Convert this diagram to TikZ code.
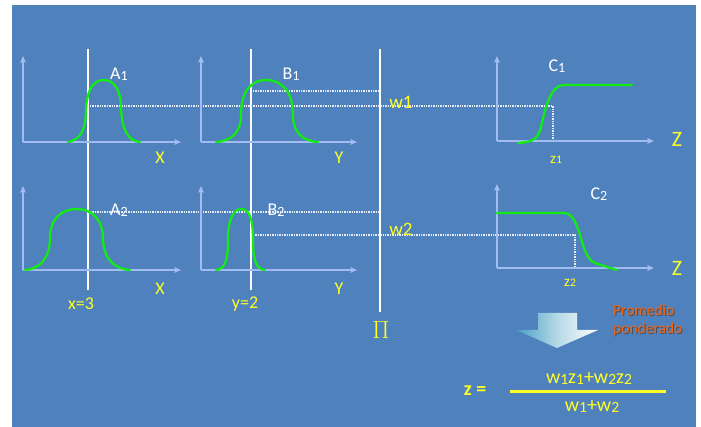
\documentclass[tikz,border=0pt]{standalone}
\usepackage{fontspec}
\setmainfont{Carlito}
\usetikzlibrary{arrows.meta}
\definecolor{bg}{RGB}{79,129,189}
\definecolor{axiscol}{RGB}{160,188,240}
\definecolor{curvecol}{RGB}{20,235,20}
\definecolor{ylw}{RGB}{255,255,40}
\definecolor{dotcol}{RGB}{230,236,248}
\definecolor{orng}{RGB}{240,100,20}
\definecolor{teal}{RGB}{70,160,195}
\newcommand{\smsub}[1]{\raisebox{-0.05em}{\scalebox{0.78}{#1}}}
\tikzset{
  axis/.style={axiscol, line width=2.2pt, -{Stealth[length=7pt,width=6pt,inset=2pt]}},
  curve/.style={curvecol, line width=2.3pt, line cap=round},
  vline/.style={white, line width=1.8pt},
  dotl/.style={dotcol, line width=1.1pt, dash pattern=on 1.4pt off 1pt},
  lbl/.style={white, inner sep=0pt, font=\fontsize{18}{18}\selectfont},
  ylbl/.style={ylw, inner sep=0pt, font=\fontsize{18}{18}\selectfont},
  zlbl/.style={ylw, inner sep=0pt, font=\fontsize{22}{22}\selectfont},
  wlbl/.style={ylw, inner sep=0pt, font=\fontsize{19}{19}\selectfont},
  slbl/.style={ylw, inner sep=0pt, font=\fontsize{15}{15}\selectfont},
  flbl/.style={ylw, inner sep=0pt, font=\fontsize{20}{20}\selectfont},
  otxt/.style={orng, inner sep=0pt, align=left, anchor=north west, font=\fontsize{15.5}{18}\selectfont},
}
\begin{document}
\begin{tikzpicture}[x=1pt,y=-1pt]
\useasboundingbox (0,0) rectangle (701,427);
\fill[white] (0,0) rectangle (701,427);
\fill[bg] (12,5) rectangle (696,427);

% vertical white lines
\draw[vline] (88,49) coordinate (xa) -- (88,290) coordinate (xb);
\draw[vline] (251,49) coordinate (ya) -- (251,290) coordinate (yb);
\draw[vline] (380,49) coordinate (pa) -- (380,312) coordinate (pb);

% dotted lines
\draw[dotl] (90,106) coordinate (d1a) -- (553,106) coordinate (d1b) -- (553,141) coordinate (d1c);
\draw[dotl] (253,91) coordinate (d2a) -- (380,91) coordinate (d2b);
\draw[dotl] (90,212) coordinate (d3a) -- (380,212) coordinate (d3b);
\draw[dotl] (253,235) coordinate (d4a) -- (575,235) coordinate (d4b) -- (575,268) coordinate (d4c);

% axes top row
\draw[axis] (23,142) coordinate (oa1) -- (23,56);
\draw[axis] (23,142) -- (181,142);
\draw[axis] (201,142) coordinate (ob1) -- (201,56);
\draw[axis] (201,142) -- (357,142);
\draw[axis] (497,141) coordinate (oc1) -- (497,56);
\draw[axis] (497,141) -- (654,141);
% axes bottom row
\draw[axis] (23,270) coordinate (oa2) -- (23,186);
\draw[axis] (23,270) -- (181,270);
\draw[axis] (201,270) coordinate (ob2) -- (201,186);
\draw[axis] (201,270) -- (357,270);
\draw[axis] (497,268) coordinate (oc2) -- (497,184);
\draw[axis] (497,268) -- (654,268);

% curves
\draw[curve] (68,142) .. controls (80,140) and (86,130) .. (86,110)
  .. controls (87,88) and (94,80) .. (104,80)
  .. controls (114,80) and (121,90) .. (121,108)
  .. controls (122,130) and (128,141) .. (140,142);
\draw[curve] (216,142) .. controls (232,141) and (241,132) .. (241,115)
  .. controls (241,90) and (252,80) .. (266,80)
  .. controls (282,80) and (293,92) .. (293,115)
  .. controls (293,132) and (302,141) .. (318,142);
\draw[curve] (25,270) .. controls (40,269) and (50,258) .. (50,238)
  .. controls (50,218) and (62,209) .. (77,209)
  .. controls (92,209) and (103,220) .. (103,238)
  .. controls (103,258) and (114,269) .. (130,270);
\draw[curve] (216,270) .. controls (226,269) and (228,258) .. (228,240)
  .. controls (228,218) and (234,209) .. (241,209)
  .. controls (249,209) and (253,218) .. (253,240)
  .. controls (253,260) and (256,269) .. (265,270);
\draw[curve] (518,143) .. controls (535,142) and (538,138) .. (541,127)
  .. controls (545,110) and (550,86) .. (563,85) -- (632,85);
\draw[curve] (497,213) -- (562,213) .. controls (572,212) and (576,222) .. (580,235)
  .. controls (585,252) and (588,262) .. (598,264)
  .. controls (605,266) and (612,269) .. (617,270);

% labels
\node[lbl] (A1) at (119,74) {A\smsub{1}};
\node[lbl] (B1) at (291,74) {B\smsub{1}};
\node[lbl] (C1) at (557,66) {C\smsub{1}};
\node[lbl] (A2) at (119,210) {A\smsub{2}};
\node[lbl] (B2) at (276,210) {B\smsub{2}};
\node[lbl] (C2) at (599,194) {C\smsub{2}};
\node[ylbl] (X1) at (160,158) {X};
\node[ylbl] (Y1) at (339,158) {Y};
\node[ylbl] (X2) at (160,289) {X};
\node[ylbl] (Y2) at (339,289) {Y};
\node[zlbl] (Z1) at (677,139) {Z};
\node[zlbl] (Z2) at (677,268) {Z};
\node[ylbl] (x3) at (81,304) {x=3};
\node[ylbl] (y2) at (245,304) {y=2};
\node[wlbl] (w1) at (401,102) {w1};
\node[wlbl] (w2) at (401,229) {w2};
\node[slbl] (z1) at (556,160) {z\smsub{1}};
\node[slbl] (z2) at (570,283) {z\smsub{2}};
\node[ylw, inner sep=0pt, font=\fontsize{23}{23}\selectfont] (Pi) at (381,330) {$\Pi$};

% block arrow
\shade[left color=teal, right color=white, middle color=teal!40!white]
  (538,313) -- (577,313) -- (577,330) -- (598,330) -- (557,348) -- (516,330) -- (538,330) -- cycle;
\node[otxt, black!70, xshift=1pt, yshift=-1pt] at (613,305) {Promedio\\ponderado};
\node[otxt] (prom) at (613,305) {Promedio\\ponderado};

% formula
\node[flbl, font=\fontsize{20}{20}\selectfont\bfseries] (zeq) at (475,391) {z =};
\node[flbl] (num) at (589,379) {w\smsub{1}z\smsub{1}+w\smsub{2}z\smsub{2}};
\draw[ylw, line width=3pt] (510,391) coordinate (fl) -- (666,391) coordinate (fr);
\node[flbl] (den) at (592,407) {w\smsub{1}+w\smsub{2}};
\end{tikzpicture}
\end{document}
